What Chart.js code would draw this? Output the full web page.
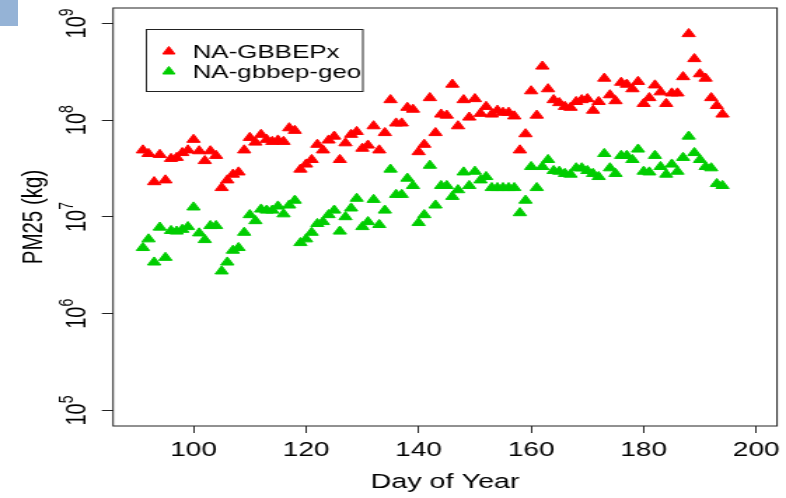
<!DOCTYPE html>
<html>
<head>
<meta charset="utf-8">
<script src="https://cdn.jsdelivr.net/npm/chart.js@4.4.1/dist/chart.umd.min.js"></script>
<style>
  html, body { margin: 0; padding: 0; background: #fff; }
  #wrap { position: relative; width: 786px; height: 498px; overflow: hidden; }
  #corner { position: absolute; left: 0; top: 0; width: 18px; height: 26px; background: #95b3d6; }
  #chart { position: absolute; left: 0; top: 0; }
</style>
</head>
<body>
<div id="wrap">
  <canvas id="chart" width="561" height="498" style="width:786px;height:498px"></canvas>
  <div id="corner"></div>
</div>
<script>
// daily PM2.5 emission totals, kg
const days = [
  91, 92, 93, 94, 95, 96, 97, 98, 99, 100, 101, 102, 103, 104, 105, 106, 107, 108, 109, 110,
  111, 112, 113, 114, 115, 116, 117, 118, 119, 120, 121, 122, 123, 124, 125, 126, 127, 128, 129, 130,
  131, 132, 133, 134, 135, 136, 137, 138, 139, 140, 141, 142, 143, 144, 145, 146, 147, 148, 149, 150,
  151, 152, 153, 154, 155, 156, 157, 158, 159, 160, 161, 162, 163, 164, 165, 166, 167, 168, 169, 170,
  171, 172, 173, 174, 175, 176, 177, 178, 179, 180, 181, 182, 183, 184, 185, 186, 187, 188, 189, 190,
  191, 192, 193, 194
];

const gbbepx = [
  4.9e7, 4.5e7, 2.3e7, 4.4e7, 2.4e7, 4.0e7, 4.1e7, 4.6e7, 4.9e7, 6.3e7,
  4.8e7, 3.8e7, 4.8e7, 4.3e7, 2.0e7, 2.4e7, 2.75e7, 2.9e7, 4.9e7, 6.6e7,
  5.9e7, 7.1e7, 6.3e7, 6.0e7, 6.2e7, 6.0e7, 8.3e7, 7.8e7, 3.1e7, 3.5e7,
  3.9e7, 5.6e7, 4.9e7, 6.2e7, 6.8e7, 3.9e7, 5.8e7, 7.1e7, 7.6e7, 5.1e7,
  5.5e7, 8.7e7, 4.9e7, 7.4e7, 1.62e8, 9.3e7, 9.3e7, 1.35e8, 1.29e8, 4.7e7,
  5.6e7, 1.7e8, 7.4e7, 1.15e8, 1.12e8, 2.34e8, 8.7e7, 1.62e8, 1.07e8, 1.66e8,
  1.17e8, 1.38e8, 1.15e8, 1.26e8, 1.2e8, 1.2e8, 1.1e8, 4.9e7, 7.2e7, 2.0e8,
  1.12e8, 3.6e8, 2.1e8, 1.62e8, 1.51e8, 1.38e8, 1.35e8, 1.55e8, 1.62e8, 1.66e8,
  1.26e8, 1.55e8, 2.7e8, 1.82e8, 1.58e8, 2.45e8, 2.34e8, 2.1e8, 2.5e8, 1.48e8,
  1.7e8, 2.3e8, 1.95e8, 1.48e8, 1.9e8, 1.9e8, 2.8e8, 7.8e8, 4.3e8, 3.0e8,
  2.7e8, 1.7e8, 1.41e8, 1.15e8
];

const gbbepGeo = [
  4.8e6, 5.9e6, 3.4e6, 7.8e6, 3.8e6, 7.2e6, 7.1e6, 7.4e6, 7.9e6, 1.26e7,
  6.8e6, 5.8e6, 8.1e6, 8.1e6, 2.75e6, 3.4e6, 4.5e6, 4.8e6, 6.9e6, 1.05e7,
  9.1e6, 1.2e7, 1.17e7, 1.17e7, 1.29e7, 1.07e7, 1.32e7, 1.48e7, 5.4e6, 5.9e6,
  6.9e6, 8.5e6, 8.9e6, 1.05e7, 1.17e7, 7.1e6, 1.0e7, 1.23e7, 1.55e7, 7.9e6,
  8.9e6, 1.51e7, 8.3e6, 1.17e7, 3.1e7, 1.7e7, 1.7e7, 2.5e7, 2.1e7, 8.7e6,
  1.05e7, 3.4e7, 1.32e7, 2.1e7, 2.1e7, 1.62e7, 1.9e7, 2.9e7, 2.1e7, 2.95e7,
  2.4e7, 2.6e7, 2.0e7, 2.0e7, 2.0e7, 2.0e7, 2.0e7, 1.1e7, 1.48e7, 3.3e7,
  2.0e7, 3.3e7, 3.9e7, 3.0e7, 2.95e7, 2.8e7, 2.75e7, 3.2e7, 3.2e7, 3.0e7,
  2.8e7, 2.6e7, 4.5e7, 3.2e7, 2.8e7, 4.3e7, 4.3e7, 3.9e7, 5.0e7, 2.95e7,
  2.9e7, 4.3e7, 3.3e7, 2.75e7, 3.5e7, 2.95e7, 4.1e7, 6.8e7, 4.6e7, 3.9e7,
  3.3e7, 3.2e7, 2.2e7, 2.1e7
];

const seriesNames = ['NA-GBBEPx', 'NA-gbbep-geo'];
const xTicks = [100, 120, 140, 160, 180, 200];
const yTicks = [1e5, 1e6, 1e7, 1e8, 1e9];
const yTickPowers = ['5', '6', '7', '8', '9'];

const FONT = "'Liberation Sans', Arial, Helvetica, sans-serif";

function toPoints(ys) {
  return days.map((d, i) => ({ x: d, y: ys[i] }));
}

// box round the plot, 10^n labels on the y axis, legend in the top left
const extras = {
  id: 'extras',
  afterDraw(chart) {
    const { ctx, chartArea: a } = chart;
    const yScale = chart.scales.y;
    ctx.save();
    ctx.strokeStyle = '#222';
    ctx.lineWidth = 1;
    ctx.strokeRect(a.left, a.top, a.right - a.left, a.bottom - a.top);

    ctx.fillStyle = '#000';
    ctx.textBaseline = 'alphabetic';
    ctx.textAlign = 'left';
    const base = 20, sup = 14;
    yTicks.forEach((v, i) => {
      const y = yScale.getPixelForValue(v);
      ctx.font = base + 'px ' + FONT;
      const w1 = ctx.measureText('10').width;
      ctx.font = sup + 'px ' + FONT;
      const w2 = ctx.measureText(yTickPowers[i]).width;
      ctx.save();
      ctx.translate(61, y);
      ctx.rotate(-Math.PI / 2);
      const x0 = -(w1 + w2) / 2;
      ctx.font = base + 'px ' + FONT;
      ctx.fillText('10', x0, 0);
      ctx.font = sup + 'px ' + FONT;
      ctx.fillText(yTickPowers[i], x0 + w1, -9);
      ctx.restore();
    });

    // legend
    const lx = 104.5, ly = 29.5, lw = 154.5, lh = 62;
    ctx.strokeStyle = '#222';
    ctx.strokeRect(lx, ly, lw, lh);
    ctx.font = '18.5px ' + FONT;
    ctx.textBaseline = 'middle';
    chart.data.datasets.forEach((ds, i) => {
      const cy = ly + 22 + i * 20;
      ctx.fillStyle = ds.backgroundColor;
      ctx.strokeStyle = ds.borderColor;
      Chart.helpers.drawPoint(ctx, { pointStyle: 'triangle', radius: 5, rotation: 0, borderWidth: 1 }, lx + 16, cy);
      ctx.fillStyle = '#000';
      ctx.fillText(ds.label, lx + 33, cy + 1);
    });
    ctx.restore();
  }
};

document.addEventListener('DOMContentLoaded', () => {
  const ctx = document.getElementById('chart');

  new Chart(ctx, {
    type: 'scatter',
    data: {
      datasets: [
        {
          label: seriesNames[0],
          data: toPoints(gbbepx),
          pointStyle: 'triangle',
          pointRadius: 5.4,
          borderWidth: 1,
          backgroundColor: '#ff0000',
          borderColor: '#ff0000',
        },
        {
          label: seriesNames[1],
          data: toPoints(gbbepGeo),
          pointStyle: 'triangle',
          pointRadius: 5.4,
          borderWidth: 1,
          backgroundColor: '#00cd00',
          borderColor: '#00cd00',
        },
      ],
    },
    options: {
      responsive: false,
      animation: false,
      devicePixelRatio: 1,
      layout: { padding: { top: 8, right: 4, left: 0, bottom: 0 } },
      plugins: {
        legend: { display: false },
        tooltip: { enabled: false },
      },
      scales: {
        x: {
          type: 'linear',
          min: 85.7,
          max: 203.7,
          afterBuildTicks: (s) => { s.ticks = xTicks.map((v) => ({ value: v })); },
          afterFit: (s) => { s.height = 72; s.paddingLeft = 0; s.paddingRight = 0; },
          grid: { drawOnChartArea: false, tickLength: 7, color: '#222', tickWidth: 1 },
          border: { display: false },
          ticks: { color: '#000', font: { family: FONT, size: 20 }, padding: 5, maxRotation: 0 },
          title: {
            display: true,
            text: 'Day of Year',
            color: '#000',
            font: { family: FONT, size: 20.5 },
            padding: { top: 0, bottom: 3.5 },
          },
        },
        y: {
          type: 'logarithmic',
          min: 69183,
          max: 1.445e9,
          afterBuildTicks: (s) => { s.ticks = yTicks.map((v) => ({ value: v })); },
          afterFit: (s) => { s.width = 80.7; s.paddingTop = 0; s.paddingBottom = 0; },
          grid: { drawOnChartArea: false, tickLength: 8, color: '#222', tickWidth: 1 },
          border: { display: false },
          ticks: { display: false },
          title: {
            display: true,
            text: 'PM25 (kg)',
            color: '#000',
            font: { family: FONT, size: 20.5 },
            padding: { top: 12.5, bottom: 0 },
          },
        },
      },
    },
    plugins: [extras],
  });
});
</script>
</body>
</html>
